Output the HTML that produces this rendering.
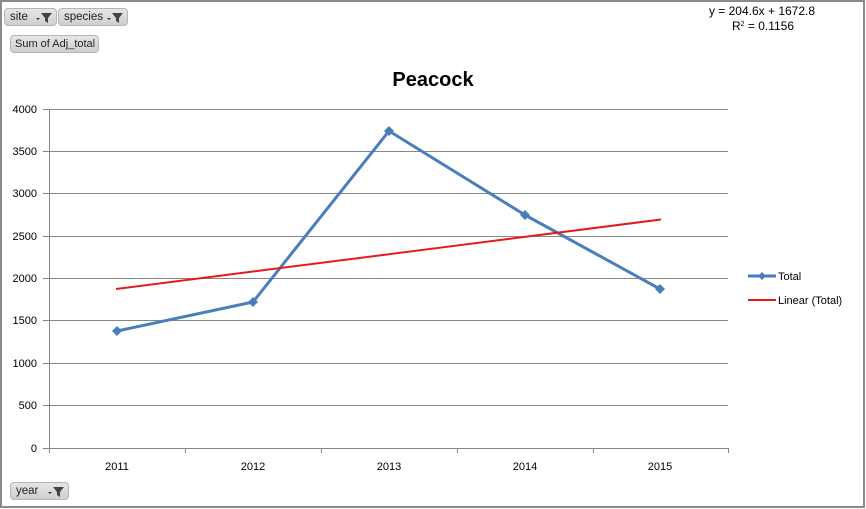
<!DOCTYPE html>
<html><head><meta charset="utf-8"><style>
html,body{margin:0;padding:0;background:#fff;}
body{width:866px;height:509px;position:relative;overflow:hidden;font-family:"Liberation Sans",sans-serif;}
.frame{position:absolute;left:0;top:0;width:861px;height:504px;border:2px solid #8a8a8a;}
.btn{position:absolute;height:18px;background:linear-gradient(#e6e6e6,#cfcfcf);border:1px solid #b5b5b5;border-radius:4px;font-size:11.5px;color:#222;line-height:17px;padding-left:5px;box-sizing:border-box;white-space:nowrap;overflow:hidden;}
.flt{position:absolute;right:3px;top:2px;}
</style></head><body>
<div class="frame"></div>
<div class="btn" style="left:4px;top:8px;width:53px;">site<svg class="flt" width="18" height="13" viewBox="0 0 18 13"><path d="M1 7h4l-2 2z" fill="#333"/><path d="M6 2h11l-4 5v5l-3-2v-3z" fill="#444"/></svg></div>
<div class="btn" style="left:58px;top:8px;width:70px;">species<svg class="flt" width="18" height="13" viewBox="0 0 18 13"><path d="M1 7h4l-2 2z" fill="#333"/><path d="M6 2h11l-4 5v5l-3-2v-3z" fill="#444"/></svg></div>
<div class="btn" style="left:10px;top:35px;width:89px;font-size:11px;padding-left:4px;">Sum of Adj_total</div>
<div class="btn" style="left:10px;top:482px;width:59px;">year<svg class="flt" width="18" height="13" viewBox="0 0 18 13"><path d="M1 7h4l-2 2z" fill="#333"/><path d="M6 2h11l-4 5v5l-3-2v-3z" fill="#444"/></svg></div>
<svg width="866" height="509" style="position:absolute;left:0;top:0" font-family="Liberation Sans, sans-serif">
<g stroke="#868686" stroke-width="1" shape-rendering="crispEdges">
<line x1="49" y1="109.5" x2="728" y2="109.5"/>
<line x1="49" y1="151.5" x2="728" y2="151.5"/>
<line x1="49" y1="193.5" x2="728" y2="193.5"/>
<line x1="49" y1="236.5" x2="728" y2="236.5"/>
<line x1="49" y1="278.5" x2="728" y2="278.5"/>
<line x1="49" y1="320.5" x2="728" y2="320.5"/>
<line x1="49" y1="363.5" x2="728" y2="363.5"/>
<line x1="49" y1="405.5" x2="728" y2="405.5"/>
<line x1="43" y1="448.5" x2="728" y2="448.5"/>
<line x1="49.5" y1="109" x2="49.5" y2="453"/>
<line x1="43" y1="109.5" x2="49" y2="109.5"/>
<line x1="43" y1="151.5" x2="49" y2="151.5"/>
<line x1="43" y1="193.5" x2="49" y2="193.5"/>
<line x1="43" y1="236.5" x2="49" y2="236.5"/>
<line x1="43" y1="278.5" x2="49" y2="278.5"/>
<line x1="43" y1="320.5" x2="49" y2="320.5"/>
<line x1="43" y1="363.5" x2="49" y2="363.5"/>
<line x1="43" y1="405.5" x2="49" y2="405.5"/>
<line x1="185.5" y1="448" x2="185.5" y2="453"/>
<line x1="321.5" y1="448" x2="321.5" y2="453"/>
<line x1="457.5" y1="448" x2="457.5" y2="453"/>
<line x1="593.5" y1="448" x2="593.5" y2="453"/>
<line x1="728.5" y1="448" x2="728.5" y2="453"/>
</g>
<g font-size="11" fill="#000" text-anchor="end">
<text x="37" y="113">4000</text>
<text x="37" y="155">3500</text>
<text x="37" y="197">3000</text>
<text x="37" y="240">2500</text>
<text x="37" y="282">2000</text>
<text x="37" y="324">1500</text>
<text x="37" y="367">1000</text>
<text x="37" y="409">500</text>
<text x="37" y="452">0</text>
</g>
<g font-size="11" fill="#000" text-anchor="middle">
<text x="117" y="470">2011</text>
<text x="253" y="470">2012</text>
<text x="389" y="470">2013</text>
<text x="525" y="470">2014</text>
<text x="660" y="470">2015</text>
</g>
<text x="433" y="86" font-size="20" font-weight="bold" text-anchor="middle" fill="#000">Peacock</text>
<polyline points="117,331 253,302 389,131 525,215 660,289" fill="none" stroke="#4a7ebb" stroke-width="3" stroke-linejoin="round"/>
<g fill="#4a7ebb">
<path d="M117 326l5 5-5 5-5-5z"/>
<path d="M253 297l5 5-5 5-5-5z"/>
<path d="M389 126l5 5-5 5-5-5z"/>
<path d="M525 210l5 5-5 5-5-5z"/>
<path d="M660 284l5 5-5 5-5-5z"/>
</g>
<line x1="116" y1="289" x2="661" y2="219.5" stroke="#e41a1c" stroke-width="2"/>
<line x1="748" y1="276" x2="776" y2="276" stroke="#4a7ebb" stroke-width="3"/>
<path d="M762 272l4 4-4 4-4-4z" fill="#4a7ebb"/>
<text x="778" y="280" font-size="11">Total</text>
<line x1="748" y1="300" x2="776" y2="300" stroke="#e41a1c" stroke-width="2"/>
<text x="778" y="304" font-size="11">Linear (Total)</text>
<text x="762" y="15" font-size="12" text-anchor="middle">y = 204.6x + 1672.8</text>
<text x="763" y="30" font-size="12" text-anchor="middle">R<tspan font-size="7" dy="-4">2</tspan><tspan dy="4"> = 0.1156</tspan></text>
</svg>
</body></html>
